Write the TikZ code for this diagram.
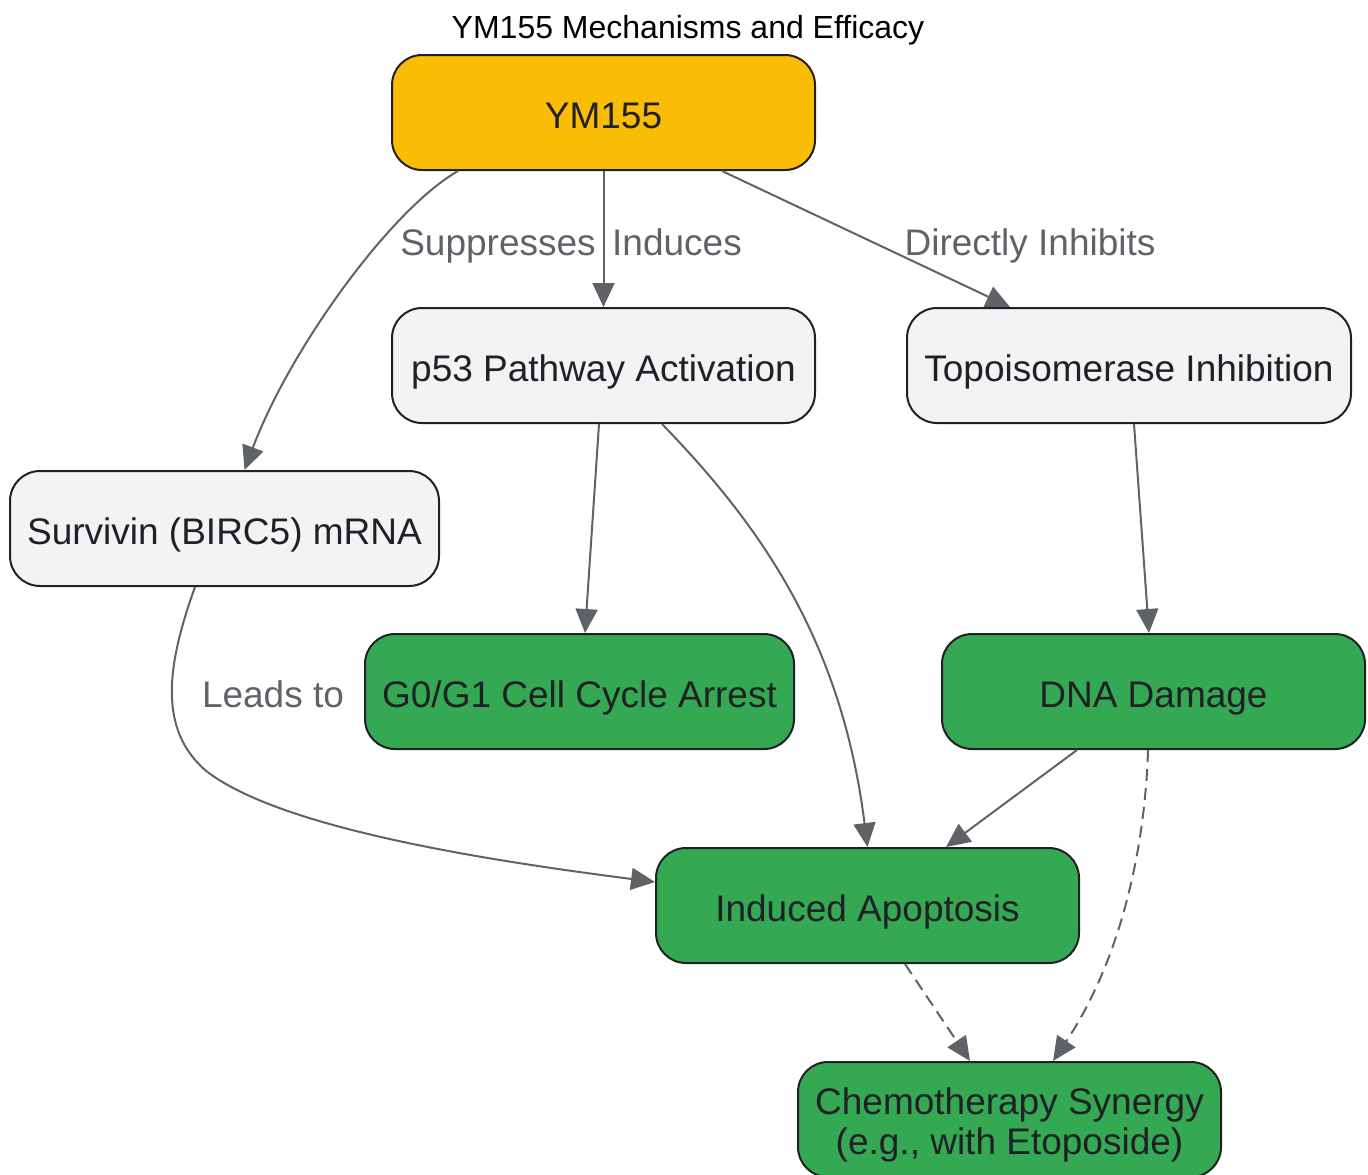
\documentclass[tikz,border=0pt]{standalone}
\usepackage{fontspec}
\setmainfont{Liberation Sans}
\usetikzlibrary{arrows.meta}
\definecolor{drugcol}{HTML}{FBBC05}
\definecolor{stepcol}{HTML}{F1F3F4}
\definecolor{effectcol}{HTML}{34A853}
\definecolor{bordercol}{HTML}{202124}
\definecolor{edgecol}{HTML}{5F6368}
\begin{document}
\begin{tikzpicture} [x=1pt, y=-1pt,
  box/.style={draw=bordercol, line width=2pt, rounded corners=30pt, inner sep=0pt,
    minimum height=115pt, text=bordercol, align=center, text height=31pt, text depth=0pt,
    font=\fontsize{37}{40}\selectfont},
  drugbox/.style={box, fill=drugcol},
  stepbox/.style={box, fill=stepcol},
  effectbox/.style={box, fill=effectcol},
  link/.style={draw=edgecol, line width=2pt, -{Triangle[length=24pt, width=22pt]}},
  dashlink/.style={link, dash pattern=on 12pt off 7pt},
  linklabel/.style={text=edgecol, inner sep=0pt, text height=27pt, text depth=0pt,
    font=\fontsize{37}{41}\selectfont}]
 \useasboundingbox (0,0) rectangle (1368,1175);
 \node (title) at (688,27) [text height=23pt, text depth=0pt, font=\fontsize{32}{38}\selectfont] {YM155 Mechanisms and Efficacy};
 \node (ym) at (603.5,112.5) [drugbox, minimum width=423pt] {YM155};
 \node (p53) at (603.5,365.5) [stepbox, minimum width=423pt] {p53 Pathway Activation};
 \node (topo) at (1129,365.5) [stepbox, minimum width=444pt] {Topoisomerase Inhibition};
 \node (surv) at (224.5,528.5) [stepbox, minimum width=429pt] {Survivin (BIRC5) mRNA};
 \node (arrest) at (579.5,691.5) [effectbox, minimum width=429pt] {G0/G1 Cell Cycle Arrest};
 \node (dna) at (1153.5,691.5) [effectbox, minimum width=423pt] {DNA Damage};
 \node (apop) at (867.5,905.5) [effectbox, minimum width=423pt] {Induced Apoptosis};
 \node (chemo) at (1009.5,1119.5) [effectbox, minimum width=423pt, text height=70pt] {Chemotherapy Synergy\\(e.g., with Etoposide)};

 \draw [link] ([xshift=-145.5pt]ym.south) .. controls +(-68,39) and +(45,-120) .. ([xshift=20pt]surv.north);
 \draw [link] (ym.south) -- (p53.north);
 \draw [link] ([xshift=118.5pt]ym.south) -- ([xshift=-119pt]topo.north);
 \node (lsup) at (498,242) [linklabel] {Suppresses};
 \node (lind) at (677,242) [linklabel] {Induces};
 \node (linh) at (1030,242) [linklabel] {Directly Inhibits};

 \draw [link] ([xshift=-4.5pt]p53.south) -- ([xshift=5.5pt]arrest.north);
 \draw [link] ([xshift=58.5pt]p53.south) .. controls +(98,101) and +(-26,-207) .. (apop.north);
 \draw [link] ([xshift=5pt]topo.south) -- ([xshift=-4.5pt]dna.north);

 \draw [link] ([xshift=-29.5pt]surv.south) .. controls +(-30,83) and (160,730) .. (205,770)
   .. controls (280,830) and (500,862) .. ([yshift=23.5pt]apop.west);
 \node (llead) at (273,694) [linklabel] {Leads to};

 \draw [link] ([xshift=-76.5pt]dna.south) -- ([xshift=78.5pt]apop.north);
 \draw [dashlink] ([xshift=-5.5pt]dna.south) .. controls +(-3,100) and +(67,-100) .. ([xshift=43.5pt]chemo.north);
 \draw [dashlink] ([xshift=37.5pt]apop.south) -- ([xshift=-39.5pt]chemo.north);
\end{tikzpicture}
\end{document}
